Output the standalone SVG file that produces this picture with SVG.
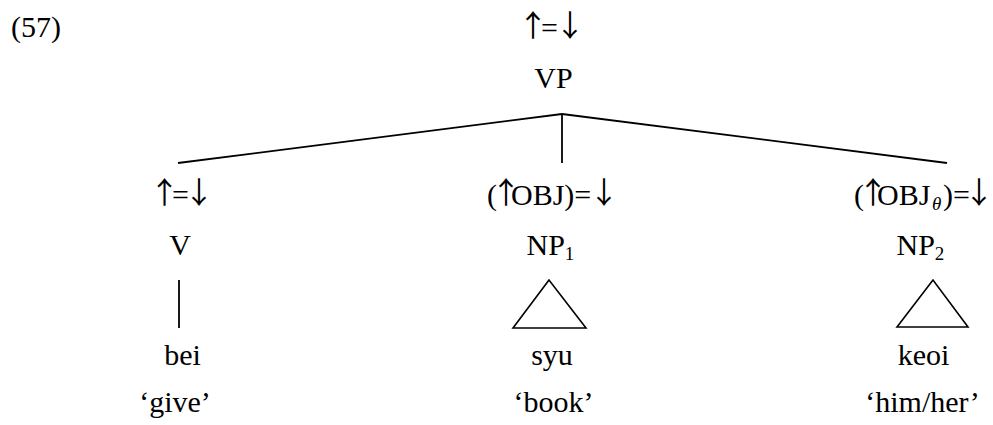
<svg xmlns="http://www.w3.org/2000/svg" width="993" height="425" viewBox="0 0 993 425">
<style>
text{font-family:"Liberation Serif","Times New Roman",serif;font-size:30px;fill:#000}
.m{text-anchor:middle}
.sub{font-size:19px}
.ar{font-family:"Noto Sans CJK JP","Liberation Serif",sans-serif}
.edge{stroke:#000;stroke-width:1.8;fill:none}
.tri{stroke:#000;stroke-width:1.6;fill:none;stroke-linejoin:miter}
</style>
<rect width="993" height="425" fill="#fff"/>
<text id="exnum" x="11" y="37">(57)</text>
<g id="connectors">
<line class="edge" x1="562" y1="114" x2="178" y2="163"/>
<line class="edge" x1="562" y1="114" x2="562" y2="163" stroke-width="1.4"/>
<line class="edge" x1="562" y1="114" x2="947" y2="163"/>
<line class="edge" x1="179" y1="280" x2="179" y2="328" stroke-width="1.4"/>
</g>
<g id="vp">
<text y="38"><tspan class="ar" x="518" dy="-2">↑</tspan><tspan x="541" dy="2">=</tspan><tspan class="ar" x="555" dy="-2">↓</tspan></text>
<text x="553.5" y="88" class="m">VP</text>
</g>
<g id="v">
<text y="205"><tspan class="ar" x="149.5" dy="-2">↑</tspan><tspan x="172" dy="2">=</tspan><tspan class="ar" x="184" dy="-2">↓</tspan></text>
<text x="180" y="255" class="m">V</text>
</g>
<g id="bei">
<text x="182.5" y="365" class="m">bei</text>
<text x="175" y="412" class="m">‘give’</text>
</g>
<g id="np1">
<text y="205"><tspan x="487">(</tspan><tspan class="ar" x="491" dy="-2">↑</tspan><tspan x="511" dy="2">OBJ)=</tspan><tspan class="ar" x="589" dy="-2">↓</tspan></text>
<text x="526.5" y="255">NP<tspan class="sub" dy="5">1</tspan></text>
<polygon class="tri" points="549,280 513,328 586,328"/>
</g>
<g id="syu">
<text x="552" y="365" class="m">syu</text>
<text x="553.5" y="412" class="m">‘book’</text>
</g>
<g id="np2">
<text y="205"><tspan x="854">(</tspan><tspan class="ar" x="858" dy="-2">↑</tspan><tspan x="877" dy="2">OBJ</tspan><tspan class="sub" x="932" dy="5" font-style="italic">θ</tspan><tspan x="943" dy="-5">)=</tspan><tspan class="ar" x="964" dy="-2">↓</tspan></text>
<text x="896.5" y="255">NP<tspan class="sub" dy="5">2</tspan></text>
<polygon class="tri" points="933,280 897,327 968,327"/>
</g>
<g id="keoi">
<text x="923.5" y="365" class="m">keoi</text>
<text x="922.5" y="412" class="m">‘him/her’</text>
</g>
</svg>
